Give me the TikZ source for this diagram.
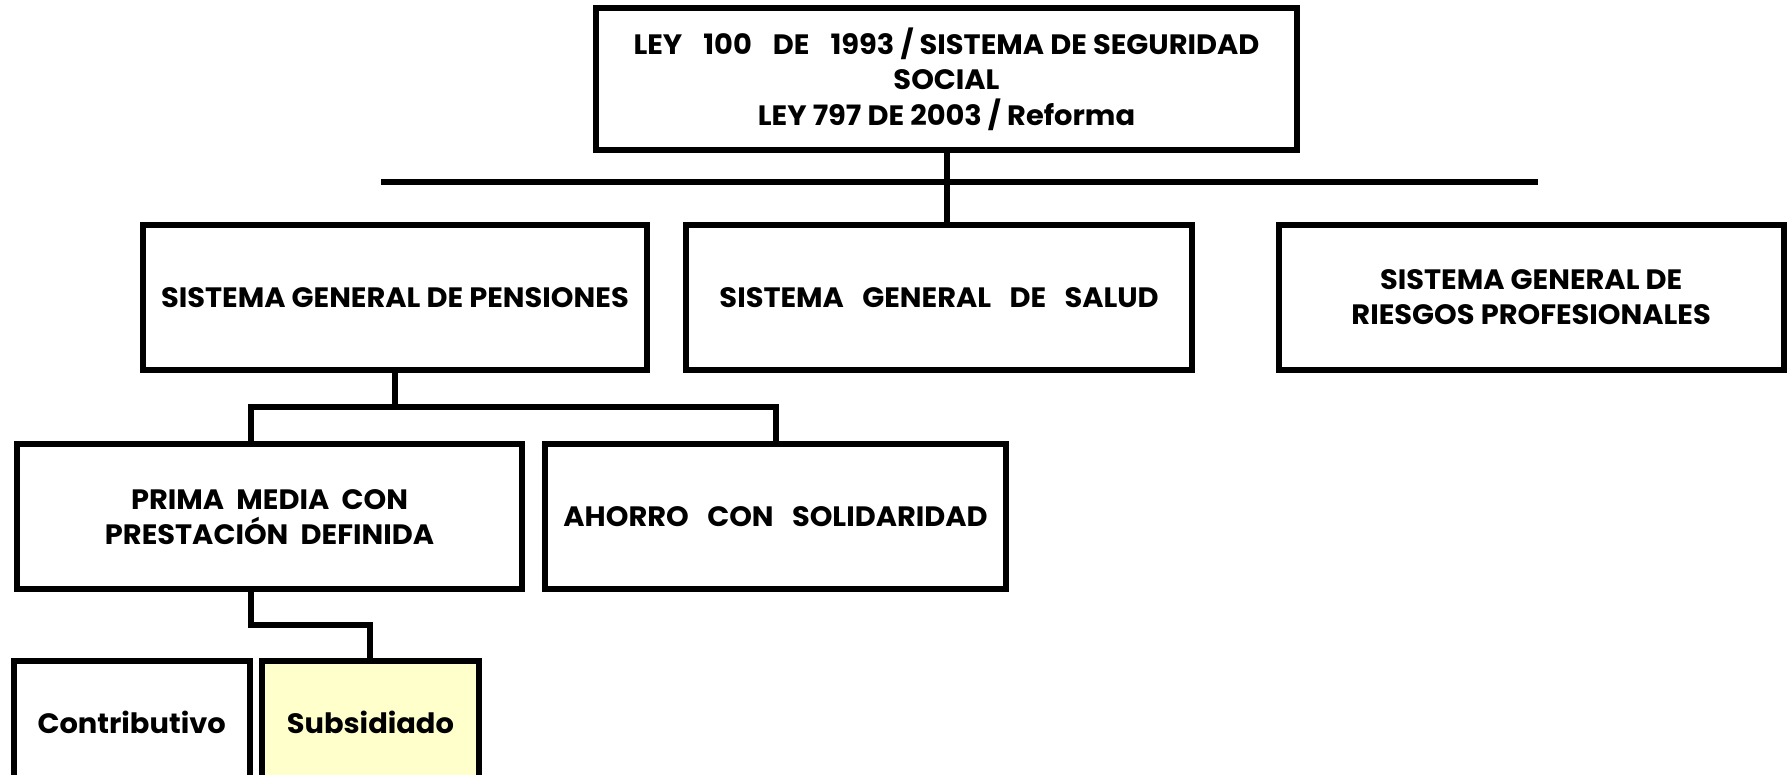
\documentclass[tikz,border=0pt]{standalone}
\usepackage{fontspec}
\setmainfont{Poppins}[FakeStretch=1.03]
\definecolor{paleyellow}{HTML}{FFFFCC}
\begin{document}
\begin{tikzpicture}[x=0.02cm,y=-0.02cm,
  box/.style={draw=black,line width=3pt,fill=white,align=center,inner sep=0pt,
    font=\fontsize{14}{17.6}\selectfont\bfseries},
  conn/.style={draw=black,line width=3pt,line cap=rect,line join=miter}]
\clip (0,0) rectangle (1568,680);
\fill[white] (0,0) rectangle (1568,680);
% top
\node[box,minimum width=12.3cm,minimum height=2.5cm] (top) at (830.5,69.5)
  {LEY\hspace{0.75em}100\hspace{0.75em}DE\hspace{0.75em}1993 / SISTEMA DE SEGURIDAD\\SOCIAL\\LEY 797 DE 2003 / Reforma};
% second row
\node[box,minimum width=8.86cm,minimum height=2.56cm] (pens) at (346.5,261)
  {SISTEMA GENERAL DE PENSIONES};
\node[box,minimum width=8.88cm,minimum height=2.56cm] (salud) at (824,261)
  {SISTEMA\ \ \ GENERAL\ \ \ DE\ \ \ SALUD};
\node[box,minimum width=8.86cm,minimum height=2.56cm] (ries) at (1343.5,261)
  {SISTEMA GENERAL DE\\RIESGOS PROFESIONALES};
% third row
\node[box,minimum width=8.86cm,minimum height=2.54cm] (prima) at (236.5,453.5)
  {PRIMA\ \ MEDIA\ \ CON\\PRESTACIÓN\ \ DEFINIDA};
\node[box,minimum width=8.1cm,minimum height=2.54cm] (ahorro) at (680.5,453.5)
  {AHORRO\ \ \ CON\ \ \ SOLIDARIDAD};
% fourth row
\node[box,minimum width=4.14cm,minimum height=2.16cm] (contrib) at (115.5,634)
  {Contributivo};
\node[box,fill=paleyellow,minimum width=3.8cm,minimum height=2.16cm] (subs) at (325,634)
  {Subsidiado};
% bus
\coordinate (busL) at (337,160);
\coordinate (busR) at (1347,160);
\draw[conn] (busL) -- (busR);
\draw[conn] (top.south) -- (top.south |- salud.north);
% pensiones branch
\coordinate (pj) at (220,357);
\coordinate (aj) at (681,357);
\draw[conn] (pens.south) -- (pens.south |- pj);
\draw[conn] (prima.north -| pj) -- (pj) -- (aj) -- (ahorro.north -| aj);
% prima branch
\coordinate (sj) at (220,548);
\draw[conn] (prima.south -| sj) |- (subs.north |- sj) -- (subs.north);
\end{tikzpicture}
\end{document}
